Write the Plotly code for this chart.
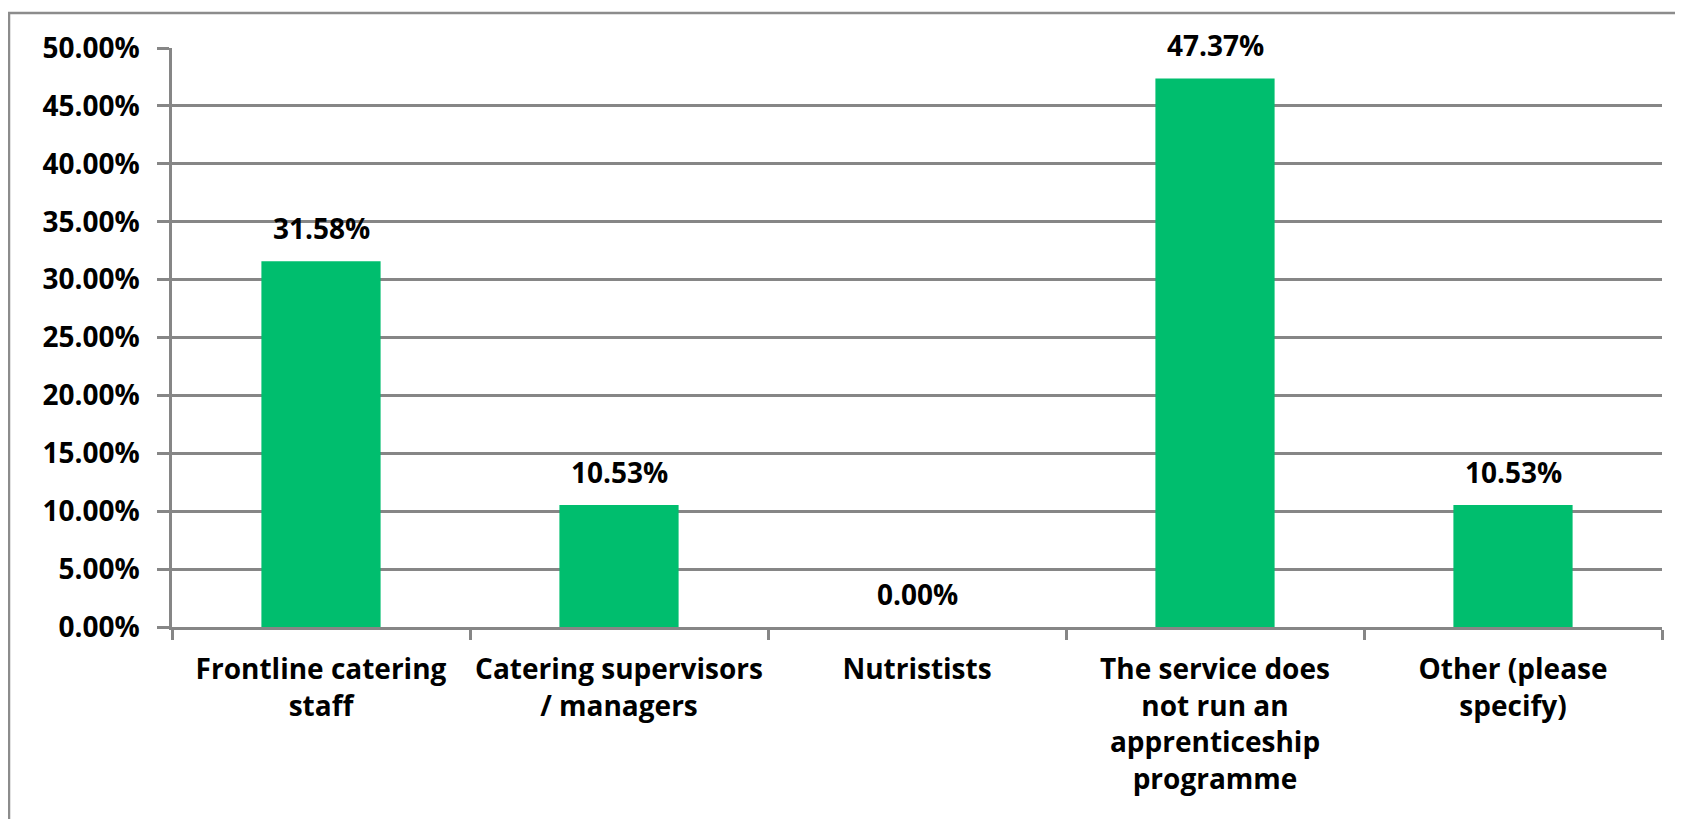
import plotly.graph_objects as go

categories = [
    "Frontline catering<br>staff",
    "Catering supervisors<br>/ managers",
    "Nutristists",
    "The service does<br>not run an<br>apprenticeship<br>programme",
    "Other (please<br>specify)",
]
values = [0.3158, 0.1053, 0.0, 0.4737, 0.1053]
labels = ["31.58%", "10.53%", "0.00%", "47.37%", "10.53%"]
tick_vals = [0.0, 0.05, 0.10, 0.15, 0.20, 0.25, 0.30, 0.35, 0.40, 0.45, 0.50]

FONT = "Open Sans"
FS = 28
GRID = "#868686"
# page body has an 8px margin; figure sized so it fits the 1683x819 window
W, H = 1675, 811
L, R, T, B = 164, 21, 40, 192

fig = go.Figure()
fig.add_trace(go.Bar(
    x=categories, y=values,
    marker=dict(color="#00BE6E", line=dict(width=0)),
    hoverinfo="skip",
))

for c, v, t in zip(categories, values, labels):
    fig.add_annotation(
        x=c, y=v, text="<b>%s</b>" % t, showarrow=False,
        xref="x", yref="y", yanchor="bottom", yshift=12,
        font=dict(family=FONT, size=FS, color="#000000"),
    )

pw = W - L - R
ph = H - T - B
# outer chart border (left, top visible; right/bottom run off the image)
fig.add_shape(
    type="rect", xref="paper", yref="paper",
    x0=(1 - L) / pw, x1=(W + 20 - L) / pw,
    y0=-(H + 20 - T - ph) / ph, y1=(T - 5 + ph) / ph,
    line=dict(color="#8C8C8C", width=2.5), fillcolor="rgba(0,0,0,0)",
    layer="below",
)

fig.update_layout(
    width=W, height=H,
    margin=dict(l=L, r=R, t=T, b=B, pad=0, autoexpand=False),
    paper_bgcolor="white", plot_bgcolor="white",
    showlegend=False,
    bargap=0.6,
    font=dict(family=FONT, size=FS, color="#000000"),
)
fig.update_xaxes(
    type="category",
    showgrid=False,
    showline=True, linecolor=GRID, linewidth=2.5,
    ticks="outside", tickson="boundaries", ticklen=10, tickwidth=2.5, tickcolor=GRID,
    tickfont=dict(family=FONT, size=FS, color="#000000", weight="bold"),
    tickangle=0,
    ticklabelstandoff=16,
    automargin=False,
)
fig.update_yaxes(
    range=[0, 0.5], tickvals=tick_vals, tickformat=".2%",
    showgrid=True, gridcolor=GRID, gridwidth=2.5,
    showline=True, linecolor=GRID, linewidth=2.5,
    ticks="outside", ticklen=12, tickwidth=2.5, tickcolor=GRID,
    tickfont=dict(family=FONT, size=FS, color="#000000", weight="bold"),
    zeroline=False,
    ticklabelstandoff=12,
    automargin=False,
)

fig.write_html("out.html")
